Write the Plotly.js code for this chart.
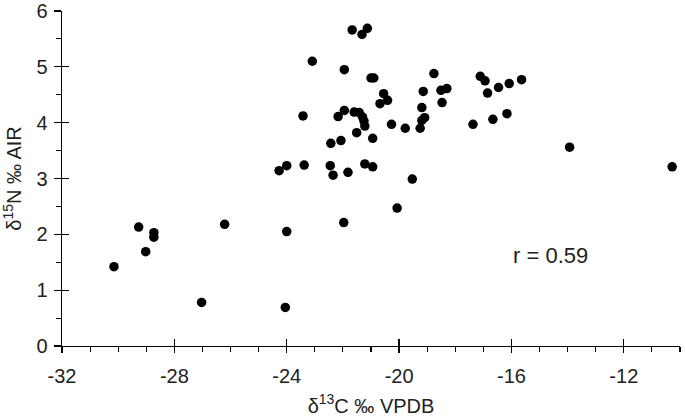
<!DOCTYPE html>
<html>
<head>
<meta charset="utf-8">
<script src="https://cdn.plot.ly/plotly-3.0.1.min.js"></script>
<style>html,body{margin:0;padding:0;background:#fff}#chart{width:685px;height:418px}</style>
</head>
<body>
<div id="chart"></div>
<script>
// δ13C (x) and δ15N (y) values
var d13C = [
  -21.67, -21.13, -21.32, -23.09, -21.95, -21.00, -20.90, -18.76, -17.11, -16.94,
  -16.46, -16.85, -16.08, -15.64, -20.55, -20.41, -20.68, -19.14, -18.51, -18.30,
  -18.47, -19.19, -19.09, -19.19, -19.25, -19.78, -20.27, -17.37, -16.66, -16.16,
  -23.42, -22.17, -21.95, -21.60, -21.42, -21.30, -21.25, -21.22, -21.51, -20.94,
  -22.43, -22.07, -24.27, -24.00, -23.38, -22.45, -22.35, -21.82, -21.22, -20.94,
  -19.53, -20.07, -13.93, -10.28,
  -30.15, -29.27, -28.73, -28.73, -29.02, -27.03, -26.21, -24.00, -24.05, -21.97
];
var d15N = [
  5.66, 5.69, 5.58, 5.10, 4.95, 4.80, 4.80, 4.88, 4.83, 4.75,
  4.63, 4.53, 4.70, 4.77, 4.52, 4.40, 4.34, 4.56, 4.58, 4.61,
  4.36, 4.27, 4.09, 4.04, 3.90, 3.90, 3.97, 3.97, 4.06, 4.16,
  4.12, 4.11, 4.22, 4.19, 4.18, 4.10, 4.03, 3.94, 3.82, 3.72,
  3.63, 3.68, 3.14, 3.23, 3.24, 3.23, 3.06, 3.11, 3.26, 3.21,
  2.99, 2.47, 3.56, 3.21,
  1.42, 2.13, 2.03, 1.95, 1.69, 0.78, 2.18, 2.05, 0.69, 2.21
];
var xRange = [-32, -10];
var yRange = [0, 6];
var xTickVals = [-32, -28, -24, -20, -16, -12];
var xTickText = ["-32", "-28", "-24", "-20", "-16", "-12"];
var yTickVals = [0, 1, 2, 3, 4, 5, 6];
var yTickText = ["0", "1", "2", "3", "4", "5", "6"];
var xTitle = "δ<sup>13</sup>C ‰ VPDB";
var yTitle = "δ<sup>15</sup>N ‰ AIR";
var rLabel = "r = 0.59";

var font = "Liberation Sans, Arial, sans-serif";
var txt = "#222";

var traces = [
  {x: d13C, y: d15N, type: "scatter", mode: "markers",
   marker: {color: "#000", size: 9.5}, hoverinfo: "x+y", cliponaxis: false},
  {x: [xRange[0]], y: [yRange[0]], xaxis: "x2", yaxis: "y2", type: "scatter",
   mode: "markers", marker: {opacity: 0}, hoverinfo: "skip", showlegend: false}
];

var layout = {
  width: 685, height: 418,
  margin: {l: 62, r: 5, t: 11, b: 72},
  paper_bgcolor: "#fff", plot_bgcolor: "#fff",
  showlegend: false,
  font: {family: font, size: 20, color: txt},
  xaxis: {
    range: xRange, showgrid: false, zeroline: false,
    showline: true, linecolor: "#000", linewidth: 1.3,
    tickmode: "array", tickvals: xTickVals, ticktext: xTickText,
    ticks: "outside", ticklen: 6, tickwidth: 1.3, tickcolor: "#000",
    minor: {dtick: 1, tick0: -32, ticks: "outside", ticklen: 5, tickwidth: 1.1, tickcolor: "#000"},
    ticklabelstandoff: 6,
    tickfont: {family: font, size: 20, color: txt},
    title: {text: xTitle, font: {family: font, size: 20, color: txt}, standoff: 12}
  },
  yaxis: {
    range: yRange, showgrid: false, zeroline: false,
    showline: true, linecolor: "#000", linewidth: 1.3,
    tickmode: "array", tickvals: yTickVals, ticktext: yTickText,
    ticks: "outside", ticklen: 7, tickwidth: 1.3, tickcolor: "#000",
    minor: {dtick: 0.5, tick0: 0, ticks: "outside", ticklen: 5, tickwidth: 1.1, tickcolor: "#000"},
    ticklabelstandoff: 2,
    tickfont: {family: font, size: 20, color: txt},
    title: {text: yTitle, font: {family: font, size: 20, color: txt}, standoff: 10}
  },
  xaxis2: {
    range: xRange, overlaying: "x", anchor: "y2", side: "bottom",
    showgrid: false, zeroline: false, showline: false, showticklabels: false,
    tickmode: "array", tickvals: xTickVals,
    ticks: "inside", ticklen: 7, tickwidth: 1.3, tickcolor: "#000"
  },
  yaxis2: {
    range: yRange, overlaying: "y", anchor: "x2", side: "left",
    showgrid: false, zeroline: false, showline: false, showticklabels: false,
    tickmode: "array", tickvals: yTickVals,
    ticks: "inside", ticklen: 7, tickwidth: 1.3, tickcolor: "#000"
  },
  annotations: [{
    text: rLabel, x: -14.62, y: 1.62, xref: "x", yref: "y", showarrow: false,
    font: {family: font, size: 22, color: txt}
  }]
};

Plotly.newPlot("chart", traces, layout, {displayModeBar: false, staticPlot: true});
</script>
</body>
</html>
